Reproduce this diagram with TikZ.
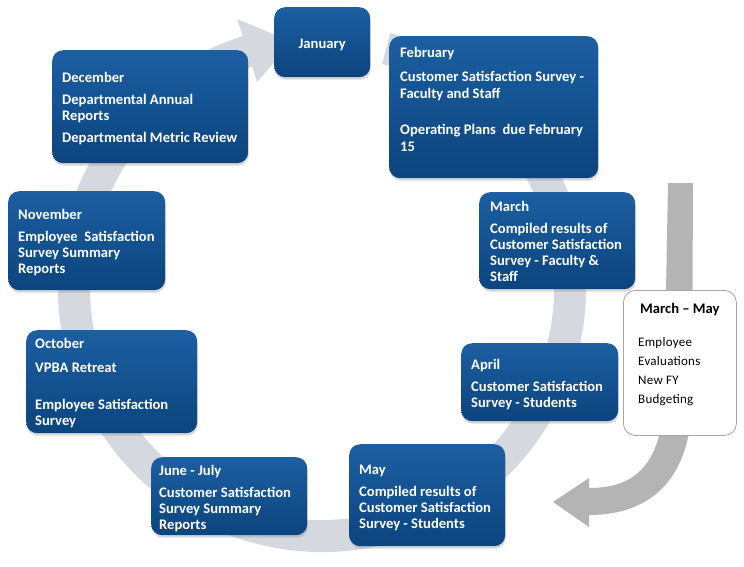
\documentclass[tikz,border=0pt]{standalone}
\usepackage{fontspec}
\setmainfont{Carlito}
\newfontfamily\notefont[LetterSpace=2]{Carlito}
\usetikzlibrary{shadows}
\definecolor{boxtop}{RGB}{28,95,162}
\definecolor{boxbot}{RGB}{12,68,126}
\definecolor{ringgray}{RGB}{213,216,223}
\definecolor{arrowgray}{RGB}{180,180,180}
\definecolor{noteborder}{RGB}{165,165,165}
\tikzset{
  mbox/.style={rounded corners=11pt, top color=boxtop, bottom color=boxbot, draw=none,
    anchor=north west, inner sep=0pt,
    drop shadow={shadow xshift=0.6pt, shadow yshift=-2.5pt, opacity=0.3}},
  btext/.style={anchor=west, inner sep=0pt, align=left, text=white,
    font=\fontsize{14.6}{16}\selectfont\bfseries},
  notebox/.style={rounded corners=12pt, draw=noteborder, line width=0.8pt, fill=white,
    anchor=north west, inner sep=0pt},
}
\begin{document}
\begin{tikzpicture}[x=1pt,y=-1pt]
\useasboundingbox (0,0) rectangle (744,566);
\fill[white] (0,0) rectangle (744,566);
\coordinate (rc) at (322,288);
% ring arrow
\fill[ringgray] ([shift={(-75:264)}]rc) arc[start angle=-75,end angle=252.5,radius=264]
  -- ([shift={(252.5:282)}]rc) -- ([shift={(263:248)}]rc) -- ([shift={(252.5:216)}]rc)
  -- ([shift={(252.5:232)}]rc) arc[start angle=252.5,end angle=-75,radius=232] -- cycle;
% right curved arrow
\fill[arrowgray] (668,183) -- (693,183) -- (692,400) .. controls (691,480) and (650,515) .. (589,515)
  -- (589,527) -- (553,502) -- (589,478) -- (589,488) .. controls (632,488) and (661,468) .. (664,400) -- cycle;

% boxes
\node[mbox, minimum width=96pt, minimum height=70pt] (jan) at (274,7) {};
\node[btext, anchor=center, align=center] (jant) at ([yshift=-3pt]jan.center) {January};

\node[mbox, minimum width=209pt, minimum height=142pt] (feb) at (389,36) {};
\node[btext, anchor=north west, font=\fontsize{14.6}{17}\selectfont\bfseries] (febt) at ([xshift=11pt,yshift=-11pt]feb.north west) {\rule{0pt}{10pt}February\\[7pt]Customer Satisfaction Survey -\\Faculty and Staff\\[19.5pt]Operating Plans\ \ due February\\15};

\node[mbox, minimum width=156pt, minimum height=97pt] (mar) at (479,192) {};
\node[btext] (mart) at ([xshift=11pt,yshift=-1pt]mar.west) {March\\[6pt]Compiled results of\\Customer Satisfaction\\Survey - Faculty \&\\Staff};

\node[mbox, minimum width=157pt, minimum height=78pt] (apr) at (461,343) {};
\node[btext] (aprt) at ([xshift=10pt,yshift=-2pt]apr.west) {April\\[6pt]Customer Satisfaction\\Survey - Students};

\node[mbox, minimum width=156pt, minimum height=102pt] (may) at (349,444) {};
\node[btext] (mayt) at ([xshift=10pt,yshift=-2.5pt]may.west) {May\\[6pt]Compiled results of\\Customer Satisfaction\\Survey - Students};

\node[mbox, minimum width=156pt, minimum height=78pt] (jun) at (151,457) {};
\node[btext] (junt) at ([xshift=8pt,yshift=-2pt]jun.west) {June - July\\[6pt]Customer Satisfaction\\Survey Summary\\Reports};

\node[mbox, minimum width=171pt, minimum height=103pt] (oct) at (26,330) {};
\node[btext] (octt) at ([xshift=9pt,yshift=-1.5pt]oct.west) {October\\[8pt]VPBA Retreat\\[21pt]Employee Satisfaction\\Survey};

\node[mbox, minimum width=157pt, minimum height=99pt] (nov) at (8,191) {};
\node[btext] (novt) at ([xshift=10pt,yshift=-2pt]nov.west) {November\\[6pt]Employee\ \ Satisfaction\\Survey Summary\\Reports};

\node[mbox, minimum width=196pt, minimum height=113pt] (dec) at (52,50) {};
\node[btext] (dect) at ([xshift=10pt,yshift=-2pt]dec.west) {December\\[6pt]Departmental Annual\\Reports\\[6pt]Departmental Metric Review};

% note box
\node[notebox, minimum width=113pt, minimum height=145pt] (note) at (623,290) {};
\node[anchor=base, inner sep=0pt, font=\fontsize{14.6}{16}\selectfont\bfseries] (notet) at ([yshift=-23pt]note.north) {March – May};
\node[anchor=north west, inner sep=0pt, align=left, font=\notefont\fontsize{13}{19}\selectfont] (noteb) at ([xshift=15pt,yshift=-46pt]note.north west) {\rule{0pt}{10pt}Employee\\Evaluations\\New FY\\Budgeting};
\end{tikzpicture}
\end{document}
